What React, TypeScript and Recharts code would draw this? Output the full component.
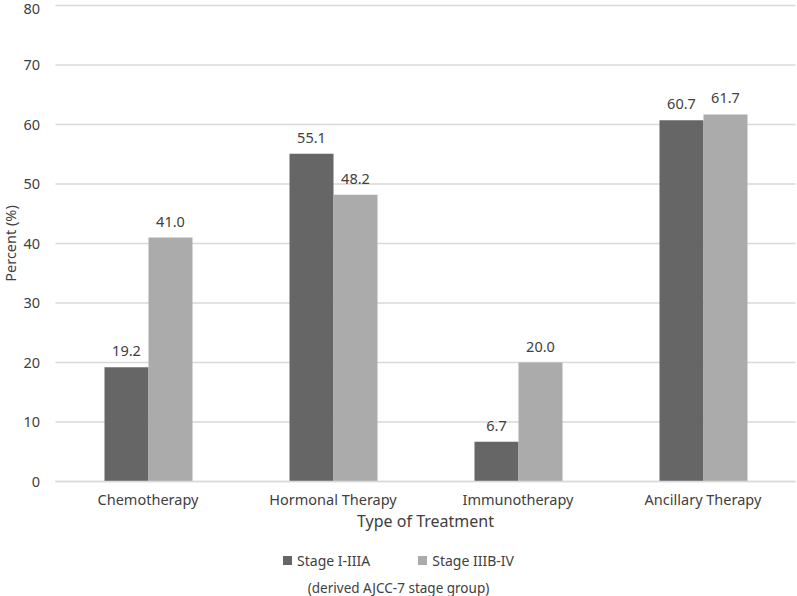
import React from 'react';
import { BarChart, Bar, XAxis, YAxis, CartesianGrid, LabelList, Legend } from 'recharts';

const categories = ['Chemotherapy', 'Hormonal Therapy', 'Immunotherapy', 'Ancillary Therapy'];
const stageEarly = [19.2, 55.1, 6.7, 60.7];
const stageLate = [41.0, 48.2, 20.0, 61.7];
const yTicks = [0, 10, 20, 30, 40, 50, 60, 70, 80];
const seriesNames = ['Stage I-IIIA', 'Stage IIIB-IV'];

const data = categories.map((c, i) => ({ name: c, early: stageEarly[i], late: stageLate[i] }));

const FONT = '"Noto Sans", sans-serif';
const DARK = '#666666';
const LIGHT = '#ababab';
const TEXT = '#404040';

const renderLegend = () => (
  <div style={{ fontFamily: FONT, fontSize: 14, color: TEXT, textAlign: 'center' }}>
    <div style={{ display: 'flex', justifyContent: 'center', gap: 48, height: 20, alignItems: 'center' }}>
      {[DARK, LIGHT].map((col, i) => (
        <span key={i} style={{ display: 'inline-flex', alignItems: 'center' }}>
          <span style={{ width: 9, height: 9, background: col, display: 'inline-block', marginRight: 5 }} />
          {seriesNames[i]}
        </span>
      ))}
    </div>
    <div style={{ marginTop: 9, fontSize: 13.5 }}>(derived AJCC-7 stage group)</div>
  </div>
);

export default function App() {
  return (
    <div style={{ position: 'absolute', left: 0, top: 0, background: '#fff' }}>
      <BarChart
        width={797}
        height={596}
        data={data}
        margin={{ top: 5.5, right: 1.5, bottom: 0, left: 0 }}
        barSize={44}
        barGap={0}
      >
        <CartesianGrid vertical={false} stroke="#d9d9d9" strokeWidth={1.3} />
        <XAxis
          dataKey="name"
          height={114.5}
          axisLine={{ stroke: '#d9d9d9', strokeWidth: 1.3 }}
          tickLine={false}
          tick={{ fill: TEXT, fontSize: 14.5, fontFamily: FONT }}
          tickMargin={7}
          label={{ value: 'Type of Treatment', position: 'insideTop', offset: 34, fill: TEXT, fontSize: 16, fontFamily: FONT }}
        />
        <YAxis
          domain={[0, 80]}
          ticks={yTicks}
          width={55.5}
          axisLine={false}
          tickLine={false}
          tick={{ fill: TEXT, fontSize: 14.5, fontFamily: FONT }}
          tickMargin={9.5}
          label={{ value: 'Percent (%)', angle: -90, position: 'insideLeft', offset: 11, style: { textAnchor: 'middle' }, fill: TEXT, fontSize: 14.5, fontFamily: FONT }}
        />
        <Legend
          layout="horizontal"
          verticalAlign="middle"
          align="center"
          content={renderLegend}
          wrapperStyle={{ position: 'absolute', top: 550, left: 0, width: 797 }}
        />
        <Bar dataKey="early" name={seriesNames[0]} fill={DARK} isAnimationActive={false}>
          <LabelList dataKey="early" position="top" offset={11} formatter={(v: number) => v.toFixed(1)} fill={TEXT} fontSize={14.5} fontFamily={FONT} />
        </Bar>
        <Bar dataKey="late" name={seriesNames[1]} fill={LIGHT} isAnimationActive={false}>
          <LabelList dataKey="late" position="top" offset={11} formatter={(v: number) => v.toFixed(1)} fill={TEXT} fontSize={14.5} fontFamily={FONT} />
        </Bar>
      </BarChart>
    </div>
  );
}
